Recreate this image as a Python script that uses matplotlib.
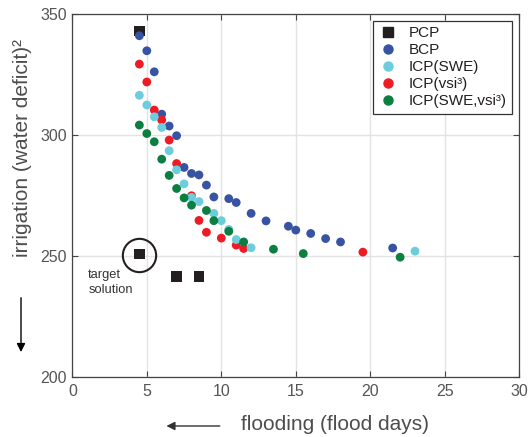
import matplotlib
matplotlib.use("Agg")
import matplotlib.pyplot as plt
from matplotlib.lines import Line2D

plt.rcParams['font.family'] = ['Liberation Sans', 'DejaVu Sans']

# ---- data ----
pcp_x = [4.5, 4.5, 7.0, 8.5]
pcp_y = [343.0, 250.7, 241.5, 241.5]

bcp_x = [4.5, 5.0, 5.5, 6.0, 6.5, 7.0, 7.5, 8.0, 8.5, 9.0, 9.5, 10.5, 11.0,
         12.0, 13.0, 14.5, 15.0, 16.0, 17.0, 18.0, 21.5]
bcp_y = [341.0, 334.8, 326.1, 308.6, 303.7, 299.7, 286.6, 284.1, 283.5, 279.3,
         274.4, 273.7, 272.1, 267.6, 264.5, 262.3, 260.7, 259.3, 257.2, 255.8, 253.3]

vsi_x = [4.5, 5.0, 5.5, 6.0, 6.5, 7.0, 8.0, 8.5, 9.0, 10.0, 11.0, 11.5, 19.5]
vsi_y = [329.3, 321.9, 310.3, 306.2, 297.9, 288.2, 274.9, 264.7, 259.8, 257.4,
         254.5, 253.1, 251.6]

swe_x = [4.5, 5.0, 5.5, 6.0, 6.5, 7.0, 7.5, 8.0, 8.5, 9.5, 10.0, 10.5, 11.0, 12.0, 23.0]
swe_y = [316.4, 312.4, 307.5, 303.1, 293.5, 285.6, 279.8, 274.2, 272.5, 267.6,
         264.6, 261.0, 256.8, 253.4, 252.0]

both_x = [4.5, 5.0, 5.5, 6.0, 6.5, 7.0, 7.5, 8.0, 9.0, 9.5, 10.5, 11.5, 13.5, 15.5, 22.0]
both_y = [304.1, 300.6, 297.2, 290.0, 283.3, 277.9, 274.0, 271.0, 268.8, 264.6,
          260.2, 255.8, 252.8, 251.0, 249.5]

target_x = [4.5]
target_y = [250.3]

labels = ['PCP', 'BCP', 'ICP(SWE)', 'ICP(vsi\u00b3)', 'ICP(SWE,vsi\u00b3)']
colors = ['#231f20', '#3953a4', '#6dcddd', '#ed1c24', '#0b7f3f']

xticks = [0, 5, 10, 15, 20, 25, 30]
yticks = [200, 250, 300, 350]

# ---- figure ----
fig = plt.figure(figsize=(5.29, 4.37), dpi=100)
ax = fig.add_axes([0.1367, 0.1373, 0.845, 0.8307])

dot_s = 40
ax.scatter(pcp_x, pcp_y, s=55, marker='s', color=colors[0], edgecolors='none', zorder=3)
ax.scatter(bcp_x, bcp_y, s=dot_s, color=colors[1], edgecolors='none', zorder=4)
ax.scatter(vsi_x, vsi_y, s=dot_s, color=colors[3], edgecolors='none', zorder=5)
ax.scatter(swe_x, swe_y, s=dot_s, color=colors[2], edgecolors='none', zorder=6)
ax.scatter(both_x, both_y, s=dot_s, color=colors[4], edgecolors='none', zorder=7)

ax.plot(target_x, target_y, marker='o', markersize=24, mfc='none', mec='#231f20',
        mew=1.5, ls='none', zorder=8)
ax.text(1.07, 244.5, 'target\nsolution', fontsize=9.3, color='#333333',
        ha='left', va='top', linespacing=1.3)

ax.set_xlim(0, 30)
ax.set_ylim(200, 350)
ax.set_xticks(xticks)
ax.set_yticks(yticks)
ax.grid(True, color='#e3e3e3', linewidth=1.0, zorder=0)
ax.set_axisbelow(True)
ax.tick_params(direction='in', top=True, right=True, length=4, width=0.8,
               colors='#444444', labelsize=11.5, labelcolor='#555555')
ax.tick_params(axis='x', pad=5)
ax.tick_params(axis='y', pad=4)
for sp in ax.spines.values():
    sp.set_color('#444444')
    sp.set_linewidth(0.9)

handles = [
    Line2D([], [], marker='s', ls='none', color=colors[0], markersize=7.5),
    Line2D([], [], marker='o', ls='none', color=colors[1], markersize=6.5),
    Line2D([], [], marker='o', ls='none', color=colors[2], markersize=6.5),
    Line2D([], [], marker='o', ls='none', color=colors[3], markersize=6.5),
    Line2D([], [], marker='o', ls='none', color=colors[4], markersize=6.5),
]
leg = ax.legend(handles, labels, loc='upper right', fontsize=11, frameon=True,
                fancybox=False, edgecolor='#333333', framealpha=1,
                handlelength=1.3, handletextpad=0.7, labelspacing=0.2,
                borderpad=0.35, borderaxespad=0.45)
leg.get_frame().set_linewidth(0.9)
for t in leg.get_texts():
    t.set_color('#231f20')

fig.text(0.0416, 0.661, 'irrigation (water deficit)\u00b2', rotation=90,
         ha='center', va='center', fontsize=15, color='#4d4d4d')
fig.text(0.6328, 0.0288, 'flooding (flood days)', ha='center', va='center',
         fontsize=15, color='#4d4d4d')

fig.add_artist(matplotlib.patches.FancyArrowPatch(
    (0.0397, 0.325), (0.0397, 0.188), transform=fig.transFigure,
    arrowstyle='-|>,head_length=5,head_width=2.5', color='black', lw=1.0))
fig.add_artist(matplotlib.patches.FancyArrowPatch(
    (0.4208, 0.0252), (0.3093, 0.0252), transform=fig.transFigure,
    arrowstyle='-|>,head_length=5,head_width=2.5', color='#333333', lw=1.0))

fig.savefig('out.png', dpi=100)
